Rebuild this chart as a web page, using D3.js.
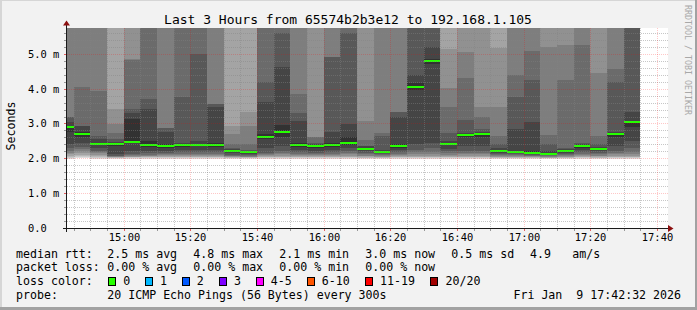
<!DOCTYPE html>
<html><head><meta charset="utf-8">
<script src="https://cdn.jsdelivr.net/npm/d3@7"></script>
<style>
html,body{margin:0;padding:0;background:#f2f2f2;}
svg{display:block;}
text{font-family:"DejaVu Sans Mono",monospace;white-space:pre;fill:#000;}
</style></head><body>
<svg id="chart" width="697" height="310"></svg>
<script>
const titleText = "Last 3 Hours from 65574b2b3e12 to 192.168.1.105";
const yAxisTitle = "Seconds";
const watermark = "RRDTOOL / TOBI OETIKER";

// bar start times (5-minute steps)
const barTimes = ["14:40","14:45","14:50","14:55","15:00","15:05","15:10","15:15","15:20","15:25",
  "15:30","15:35","15:40","15:45","15:50","15:55","16:00","16:05","16:10","16:15",
  "16:20","16:25","16:30","16:35","16:40","16:45","16:50","16:55","17:00","17:05",
  "17:10","17:15","17:20","17:25","17:30"];

// median rtt per bar (ms)
const medians = [2.91,2.685,2.42,2.42,2.48,2.39,2.34,2.37,2.39,2.37,
  2.22,2.19,2.62,2.76,2.39,2.34,2.37,2.45,2.28,2.19,
  2.34,4.06,4.78,2.42,2.68,2.71,2.22,2.19,2.16,2.13,
  2.22,2.35,2.28,2.71,3.03];

// 20 sorted ping rtts per bar (ms); values above the top of the graph are clipped
const pings = [
  [1.99,2.02,2.04,2.07,2.11,2.16,2.22,2.3,2.42,2.75,2.92,3.03,3.18,3.18,6,6,6,6,6,6],
  [2.0,2.03,2.06,2.1,2.15,2.2,2.26,2.33,2.45,2.6,2.75,2.94,2.94,4.05,6,6,6,6,6,6],
  [1.99,2.02,2.04,2.07,2.1,2.14,2.18,2.22,2.3,2.38,2.45,2.55,2.64,3.92,6,6,6,6,6,6],
  [1.99,2.01,2.02,2.03,2.04,2.05,2.06,2.08,2.12,2.35,2.43,2.47,2.56,2.72,2.98,3.42,6,6,6,6],
  [1.99,2.01,2.03,2.04,2.05,2.07,2.09,2.12,2.2,2.44,3.12,3.31,3.42,4.83,4.85,6,6,6,6,6],
  [1.99,2.01,2.03,2.04,2.06,2.08,2.1,2.14,2.2,2.33,2.5,3.42,3.7,6,6,6,6,6,6,6],
  [1.99,2.01,2.03,2.05,2.07,2.09,2.12,2.16,2.22,2.3,2.4,2.76,2.88,2.88,6,6,6,6,6,6],
  [1.99,2.01,2.03,2.05,2.07,2.1,2.13,2.17,2.24,2.33,2.4,2.45,3.75,6,6,6,6,6,6,6],
  [1.99,2.01,2.03,2.05,2.07,2.1,2.13,2.17,2.25,2.35,2.42,2.5,4.99,6,6,6,6,6,6,6],
  [1.99,2.01,2.03,2.05,2.07,2.1,2.13,2.17,2.25,2.32,2.45,3.48,3.56,3.56,6,6,6,6,6,6],
  [1.99,2.01,2.02,2.03,2.05,2.06,2.08,2.1,2.14,2.2,2.23,2.26,2.3,2.41,2.69,2.94,6,6,6,6],
  [1.99,2.01,2.02,2.03,2.04,2.05,2.07,2.09,2.12,2.17,2.2,2.22,2.24,2.41,2.94,3.34,6,6,6,6],
  [1.99,2.01,2.03,2.05,2.07,2.09,2.12,2.16,2.3,2.55,2.7,3.62,4.2,6,6,6,6,6,6,6],
  [1.99,2.01,2.03,2.05,2.08,2.11,2.14,2.2,2.35,2.6,2.95,4.63,5.6,6,6,6,6,6,6,6],
  [1.99,2.01,2.03,2.05,2.07,2.1,2.13,2.17,2.25,2.33,2.45,3.06,3.3,3.85,6,6,6,6,6,6],
  [1.99,2.01,2.03,2.05,2.07,2.09,2.12,2.16,2.22,2.3,2.36,2.4,2.45,2.62,2.62,6,6,6,6,6],
  [1.99,2.01,2.03,2.05,2.07,2.1,2.13,2.17,2.24,2.32,2.45,2.76,4.9,4.9,6,6,6,6,6,6],
  [1.99,2.01,2.03,2.05,2.08,2.11,2.15,2.2,2.3,2.38,2.6,2.98,5.6,6,6,6,6,6,6,6],
  [1.99,2.01,2.02,2.04,2.06,2.08,2.11,2.15,2.2,2.26,2.3,2.35,2.35,2.53,3.08,6,6,6,6,6],
  [1.99,2.01,2.02,2.03,2.05,2.07,2.09,2.11,2.14,2.17,2.21,2.25,2.64,2.74,6,6,6,6,6,6],
  [1.99,2.01,2.03,2.05,2.07,2.1,2.13,2.17,2.23,2.3,2.4,3.18,3.34,3.34,6,6,6,6,6,6],
  [1.99,2.01,2.03,2.05,2.08,2.12,2.18,2.25,2.4,3.95,4.15,4.4,6,6,6,6,6,6,6,6],
  [1.99,2.01,2.03,2.05,2.08,2.12,2.18,2.3,2.45,4.7,4.85,5.19,6,6,6,6,6,6,6,6],
  [1.99,2.01,2.03,2.05,2.07,2.1,2.14,2.2,2.28,2.38,2.44,2.5,2.74,3.46,4.01,5.15,6,6,6,6],
  [1.99,2.01,2.03,2.05,2.08,2.11,2.15,2.2,2.35,2.6,2.7,2.74,3.11,4.3,5.05,6,6,6,6,6],
  [1.99,2.01,2.03,2.05,2.08,2.11,2.15,2.2,2.35,2.6,2.73,2.76,2.85,3.2,3.46,6,6,6,6,6],
  [1.99,2.01,2.02,2.03,2.05,2.07,2.09,2.12,2.15,2.2,2.24,2.3,2.41,2.65,3.46,5.16,6,6,6,6],
  [1.99,2.01,2.02,2.03,2.05,2.07,2.09,2.11,2.14,2.17,2.22,2.84,3.75,4.39,6,6,6,6,6,6],
  [1.99,2.01,2.02,2.03,2.04,2.06,2.08,2.1,2.12,2.14,2.2,3.03,4.26,5.09,6,6,6,6,6,6],
  [1.99,2.0,2.01,2.02,2.04,2.05,2.07,2.09,2.1,2.11,2.15,2.2,2.4,2.67,5.19,6,6,6,6,6],
  [1.99,2.01,2.02,2.03,2.05,2.07,2.09,2.12,2.15,2.2,2.23,2.26,2.3,4.26,5.24,6,6,6,6,6],
  [1.99,2.01,2.03,2.05,2.07,2.1,2.13,2.17,2.23,2.3,2.37,2.4,2.45,5.24,6,6,6,6,6,6],
  [1.99,2.01,2.02,2.04,2.06,2.08,2.11,2.15,2.2,2.24,2.3,2.33,2.4,2.64,4.44,6,6,6,6,6],
  [1.99,2.01,2.03,2.05,2.08,2.11,2.15,2.2,2.35,2.6,2.73,2.76,4.18,4.57,6,6,6,6,6,6],
  [1.99,2.01,2.03,2.05,2.08,2.12,2.18,2.3,2.5,2.9,3.08,3.34,6,6,6,6,6,6,6,6]
];

const yTickValues = [0,1,2,3,4,5];
const yTickLabels = ["0.0","1.0 m","2.0 m","3.0 m","4.0 m","5.0 m"];
const xTickLabels = ["15:00","15:20","15:40","16:00","16:20","16:40","17:00","17:20","17:40"];

const rttLabel = "median rtt:";
const rttStats = ["2.5 ms avg","4.8 ms max","2.1 ms min","3.0 ms now","0.5 ms sd","4.9","am/s"];
const lossLabel = "packet loss:";
const lossStats = ["0.00 % avg","0.00 % max","0.00 % min","0.00 % now"];
const lossColorLabel = "loss color:";
const lossNames = ["0","1","2","3","4-5","6-10","11-19","20/20"];
const lossColors = ["#26ff00","#00b8ff","#0059ff","#7e00ff","#ff00ff","#ff5500","#ff0000","#a10000"];
const probeLabel = "probe:";
const probeText = "20 ICMP Echo Pings (56 Bytes) every 300s";
const dateText = "Fri Jan  9 17:42:32 2026";

// ---------- layout ----------
const W = 697, H = 310;
const PL = 67, PR = 667, PT = 28, PB = 228;
const svg = d3.select("#chart");
const day = (h,m,s)=>new Date(2026,0,9,h,m,s||0);
const parseT = s => { const [h,m] = s.split(":").map(Number); return day(h,m); };

const x = d3.scaleTime().domain([day(14,42,50), day(17,42,50)]).range([PL, PR]);
const yMax = 5.74;
const y = d3.scaleLinear().domain([0, yMax]).range([PB, PT]);
const px = v => Math.floor(v);
const py = v => Math.round(v);

// background & frame
svg.append("rect").attr("width",W).attr("height",H).attr("fill","#f2f2f2");
svg.append("rect").attr("x",0).attr("y",0).attr("width",W).attr("height",1).attr("fill","#d6d6d6");
svg.append("rect").attr("x",0).attr("y",0).attr("width",2).attr("height",H).attr("fill","#d6d6d6");
svg.append("rect").attr("x",W-2).attr("y",0).attr("width",2).attr("height",H).attr("fill","#a2a2a2");
svg.append("rect").attr("x",0).attr("y",H-3).attr("width",W).attr("height",3).attr("fill","#a2a2a2");

// canvas
svg.append("rect").attr("x",PL).attr("y",PT).attr("width",PR-PL+1).attr("height",PB-PT).attr("fill","#ffffff");

// smoke bands
const bands = [];
const medRects = [];
barTimes.forEach((t,i)=>{
  const t0 = parseT(t), t1 = new Date(+t0 + 300000);
  const xa = Math.max(PL, px(x(t0)));
  const xb = Math.min(PR, px(x(t1)));
  const p = pings[i];
  for (let k=0;k<10;k++){
    const lo = p[k], hi = Math.min(p[19-k], yMax);
    const ya = py(y(hi)), yb = py(y(lo));
    const c = 19*(9-k)+50;
    bands.push({x:xa, w:xb-xa, y:ya, h:Math.max(0,yb-ya), c:`rgb(${c},${c},${c})`});
  }
  const ym = py(y(medians[i]));
  medRects.push({x:xa, w:xb-xa, y:ym-1, h:2});
});
svg.append("g").attr("shape-rendering","crispEdges").selectAll("rect").data(bands).join("rect")
  .attr("x",d=>d.x).attr("y",d=>d.y).attr("width",d=>d.w).attr("height",d=>d.h).attr("fill",d=>d.c);
svg.append("g").attr("shape-rendering","crispEdges").selectAll("rect").data(medRects).join("rect")
  .attr("x",d=>d.x).attr("y",d=>d.y).attr("width",d=>d.w).attr("height",d=>d.h).attr("fill","#26ff00");

// grid: explicit 1px dots (1 on / 1 off)
const majorX = x.ticks(d3.timeMinute.every(20));
const majorSet = new Set(majorX.map(d=>px(x(d))));
const minorX = x.ticks(d3.timeMinute.every(5)).filter(d=>!majorSet.has(px(x(d))));
const minorY = d3.range(0.2, yMax, 0.2).filter(v=>Math.abs(v-Math.round(v))>1e-6);
const minorCol = "rgba(130,130,130,0.45)";
const majorCol = "rgba(255,0,0,0.22)";
const dots = [];
function vDots(xp, col){ for (let yy=PT; yy<PB; yy+=2) dots.push({x:xp, y:yy, c:col}); }
function hDots(yp, col){ for (let xx=PL; xx<=PR+1; xx+=2) dots.push({x:xx, y:yp, c:col}); }
minorX.forEach(d=>vDots(px(x(d)), minorCol));
minorY.forEach(v=>hDots(py(y(v)), minorCol));
majorX.forEach(d=>vDots(px(x(d)), majorCol));
yTickValues.slice(1).forEach(v=>hDots(py(y(v)), majorCol));
svg.append("g").attr("shape-rendering","crispEdges").selectAll("rect").data(dots).join("rect")
  .attr("x",d=>d.x).attr("y",d=>d.y).attr("width",1).attr("height",1).attr("fill",d=>d.c);

// axis ticks
const ticks = svg.append("g").attr("shape-rendering","crispEdges");
ticks.append("g").selectAll("rect").data(x.ticks(d3.timeMinute.every(5))).join("rect")
  .attr("x",d=>px(x(d))).attr("y",PB+1).attr("width",1).attr("height",2)
  .attr("fill",d=>(d.getMinutes()%20===0)?"#e06060":"#999");
ticks.append("g").selectAll("rect").data(minorY.concat(yTickValues.slice(1))).join("rect")
  .attr("x",PL-3).attr("y",d=>py(y(d))).attr("width",2).attr("height",1)
  .attr("fill",d=>Math.abs(d-Math.round(d))<1e-6?"#e06060":"#999");

// axes
const ax = svg.append("g").attr("shape-rendering","crispEdges");
ax.append("rect").attr("x",63).attr("y",PB).attr("width",606).attr("height",1).attr("fill","#1a1a1a");
ax.append("rect").attr("x",PL-1).attr("y",24).attr("width",1).attr("height",PB+4-24).attr("fill","#1a1a1a");
svg.append("path").attr("d",`M${PL-4},25.5 L${PL+3},25.5 L${PL-0.5},20.5 Z`).attr("fill","#8c1010");
svg.append("path").attr("d",`M668,225 L668,232 L673.5,228.5 Z`).attr("fill","#8c1010");

// y labels
svg.append("g").selectAll("text").data(yTickValues).join("text")
  .attr("x",28).attr("y",d=>py(y(d))+4).attr("font-size","10.4px")
  .text((d,i)=>yTickLabels[i]);
// x labels
svg.append("g").selectAll("text").data(majorX).join("text")
  .attr("x",d=>px(x(d))+0.5).attr("y",241).attr("font-size","10.4px").attr("text-anchor","middle")
  .text((d,i)=>xTickLabels[i]);

// title
svg.append("text").attr("x",348).attr("y",24).attr("text-anchor","middle").attr("font-size","13px").text(titleText);
// y axis title
svg.append("text").attr("transform","translate(14.5,126) rotate(-90)").attr("text-anchor","middle")
  .attr("font-size","11.6px").text(yAxisTitle);
// watermark
svg.append("text").attr("transform","translate(685,5) rotate(90)").attr("font-size","8.3px")
  .style("fill","#a8a8a8").text(watermark);

// legend
const LF = "11.6px";
const leg = svg.append("g").attr("font-size",LF);
const rows = [257.5, 271.3, 285, 299];
leg.append("text").attr("x",16).attr("y",rows[0]).text(rttLabel);
const rttX = [107.3,193.3,279.3,365.3,451.3,530,572.3];
leg.append("g").selectAll("text").data(rttStats).join("text").attr("x",(d,i)=>rttX[i]).attr("y",rows[0]).text(d=>d);
leg.append("text").attr("x",16).attr("y",rows[1]).text(lossLabel);
leg.append("g").selectAll("text").data(lossStats).join("text").attr("x",(d,i)=>rttX[i]).attr("y",rows[1]).text(d=>d);
leg.append("text").attr("x",16).attr("y",rows[2]).text(lossColorLabel);
const boxX = [108.5,145.5,182.5,219.5,256.5,307.5,365.5,430.5];
const nameX = [123.3,160,196.7,234,270.7,321.7,380,445.5];
leg.append("g").attr("shape-rendering","crispEdges").selectAll("rect").data(lossColors).join("rect")
  .attr("x",(d,i)=>boxX[i]).attr("y",277.5).attr("width",7).attr("height",8)
  .attr("fill",d=>d).attr("stroke","#000").attr("stroke-width",1);
leg.append("g").selectAll("text").data(lossNames).join("text").attr("x",(d,i)=>nameX[i]).attr("y",rows[2]).text(d=>d);
leg.append("text").attr("x",16).attr("y",rows[3]).text(probeLabel);
leg.append("text").attr("x",107.3).attr("y",rows[3]).text(probeText);
leg.append("text").attr("x",681).attr("y",rows[3]).attr("text-anchor","end").text(dateText);
</script>
</body></html>
